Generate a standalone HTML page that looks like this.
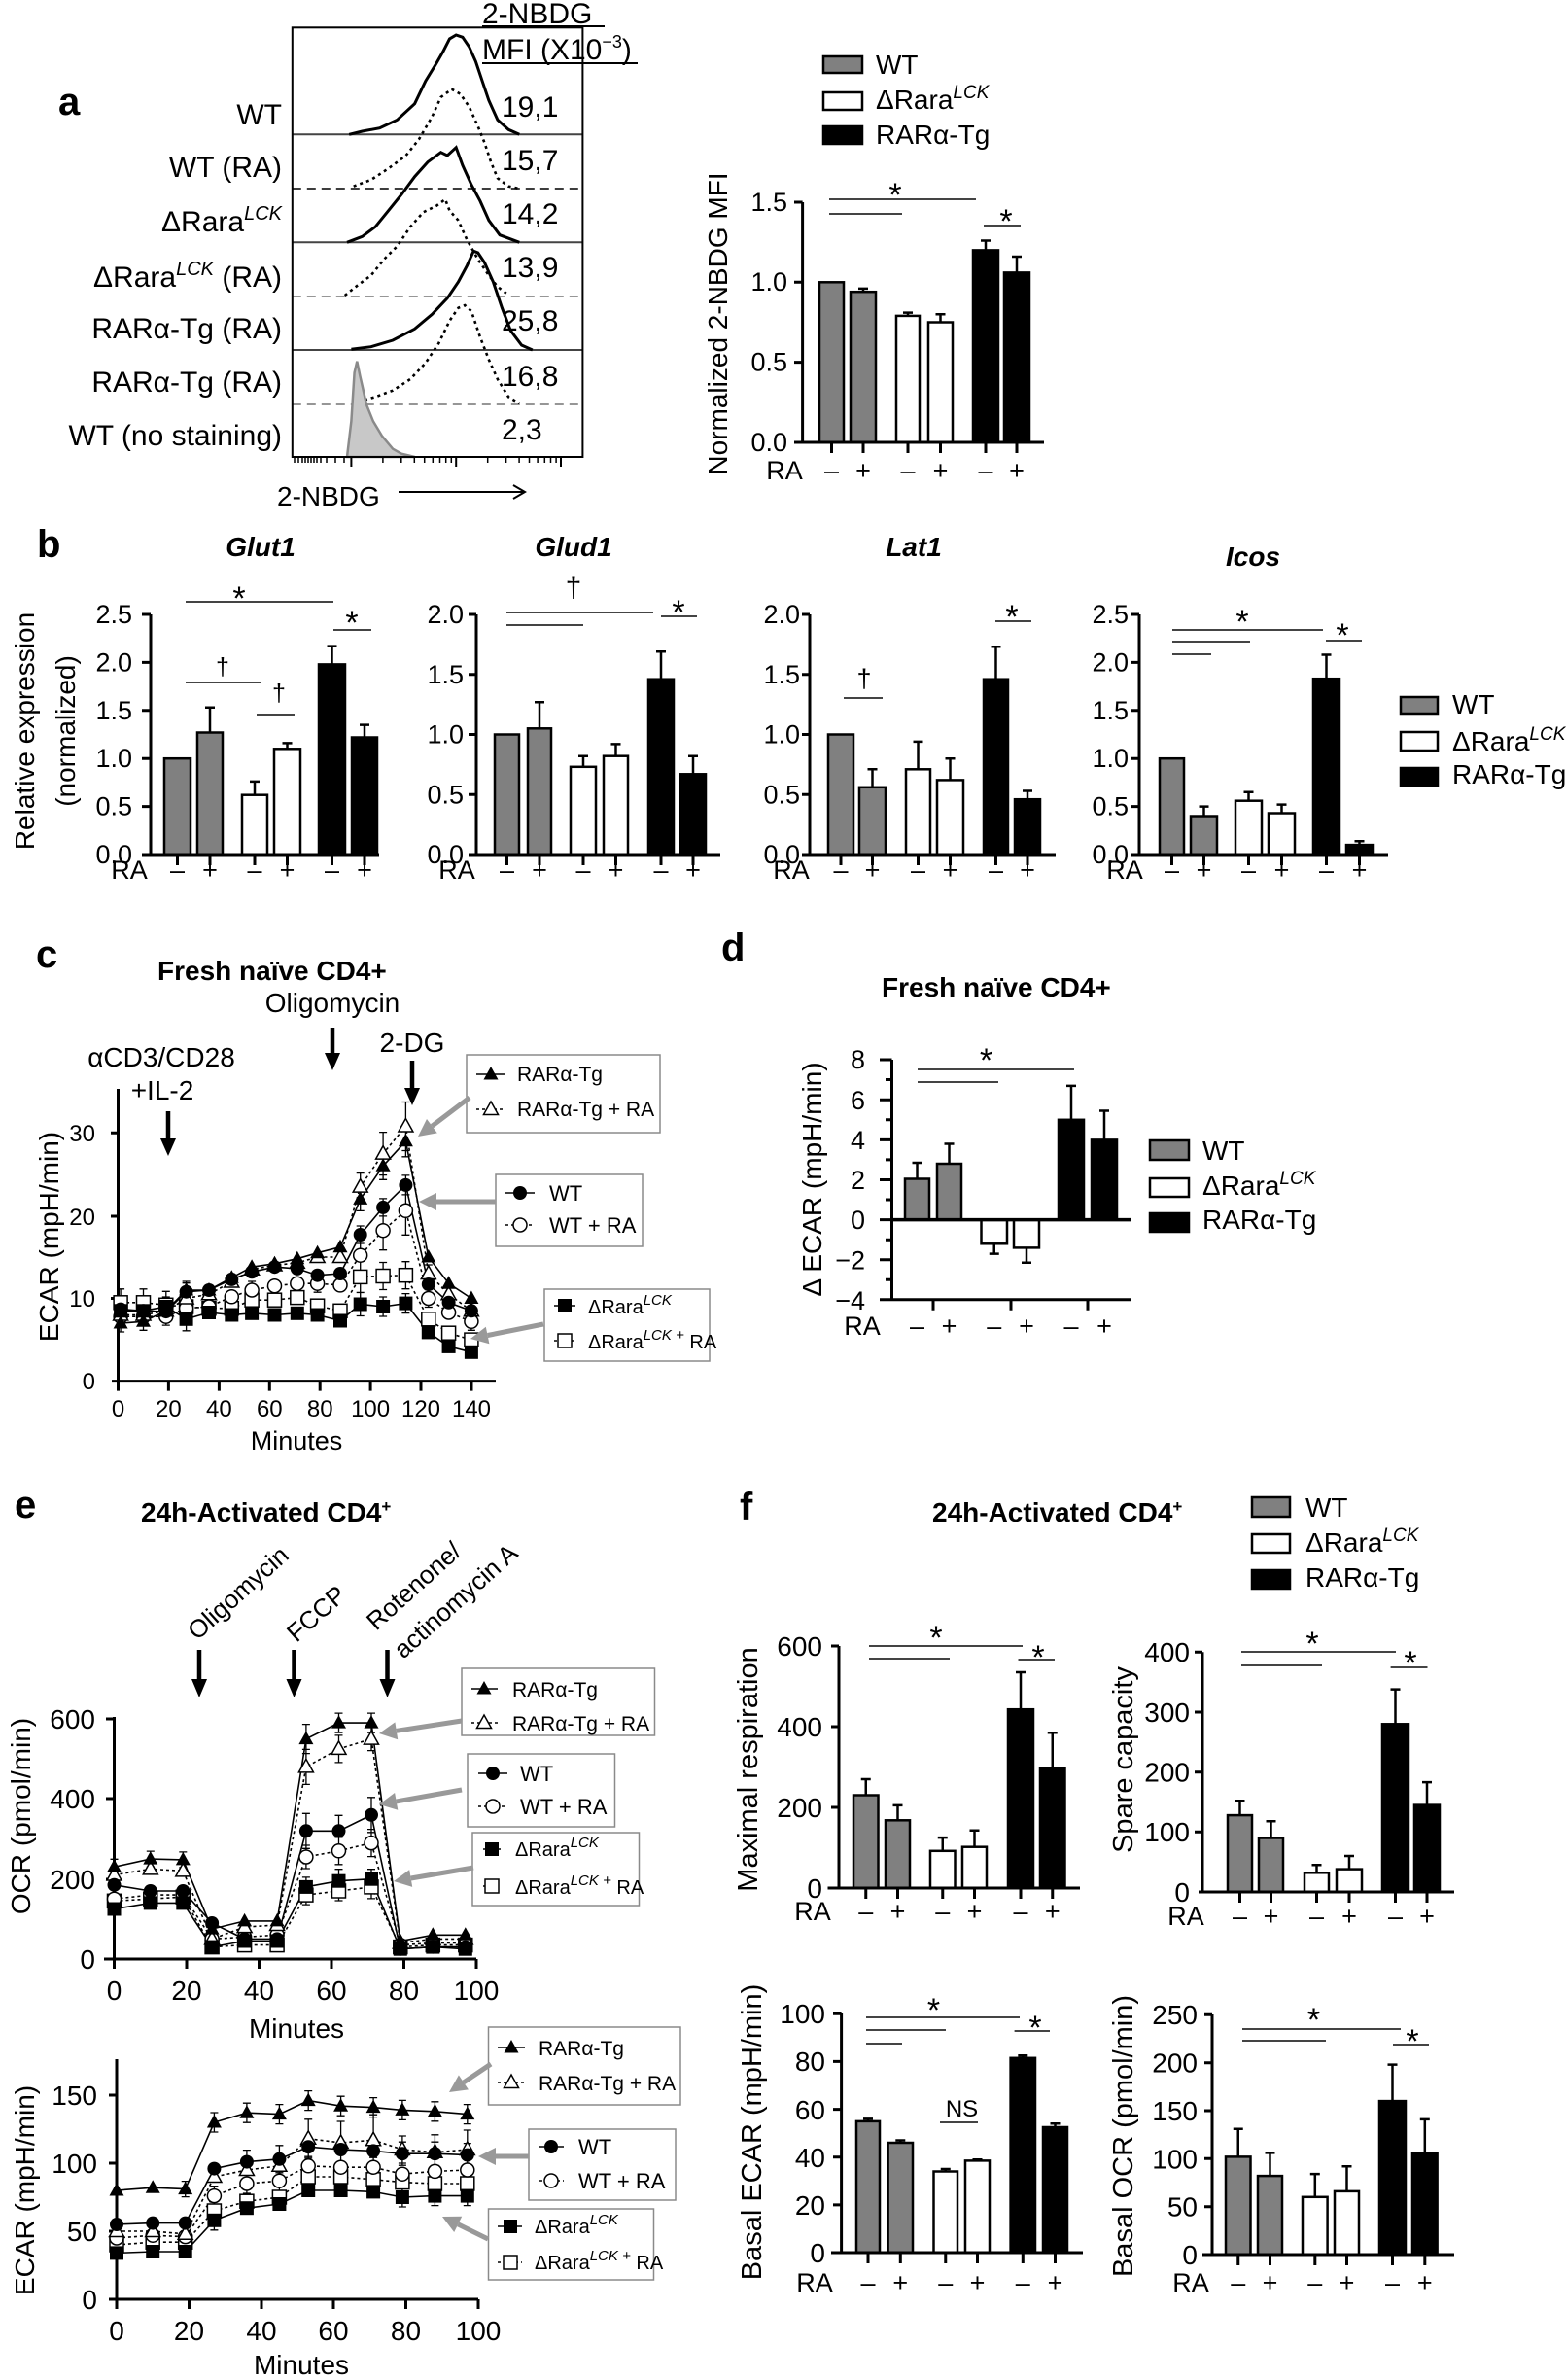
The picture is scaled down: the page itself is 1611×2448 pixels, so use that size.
<!DOCTYPE html>
<html><head><meta charset="utf-8">
<style>
html,body{margin:0;padding:0;background:#fff;}
svg{display:block;}
text{font-family:"Liberation Sans",Arial,sans-serif;fill:#000;}
.b{font-weight:bold;}
.g{fill:#808080;stroke:#000;stroke-width:2.5}
.w{fill:#fff;stroke:#000;stroke-width:2.5}
.k{fill:#000;stroke:#000;stroke-width:2.5}
.ax{stroke:#000;stroke-width:3;fill:none}
.sg{stroke:#444;stroke-width:2;fill:none}
.eb{stroke:#000;stroke-width:2.5;fill:none}
.ln{stroke:#000;stroke-width:1.6;fill:none}
.dl{stroke:#000;stroke-width:1.6;fill:none;stroke-dasharray:3 3}
.eL{stroke:#000;stroke-width:1.3;fill:none}
.lb{fill:none;stroke:#8a8a8a;stroke-width:1.5}
.ga{stroke:#999;stroke-width:5;fill:none}
</style></head>
<body>
<svg width="1611" height="2448" viewBox="0 0 1611 2448">
<defs>
<polygon id="tf" points="0,-8 7.5,5.5 -7.5,5.5" fill="#000"/>
<polygon id="to" points="0,-8 7.5,5.5 -7.5,5.5" fill="#fff" stroke="#000" stroke-width="1.5"/>
<circle id="cf" r="7" fill="#000"/>
<circle id="co" r="7" fill="#fff" stroke="#000" stroke-width="1.5"/>
<rect id="sf" x="-7" y="-7" width="14" height="14" fill="#000"/>
<rect id="so" x="-7" y="-7" width="14" height="14" fill="#fff" stroke="#000" stroke-width="1.5"/>
</defs>
<rect x="0" y="0" width="1611" height="2448" fill="#fff"/>

<!-- ================= PANEL A LEFT ================= -->
<text x="60" y="118" font-size="40" class="b">a</text>
<text x="496" y="24" font-size="30">2-NBDG</text>
<line x1="496" y1="27" x2="622" y2="27" stroke="#000" stroke-width="2"/>
<text x="496" y="61" font-size="30">MFI (X10<tspan dy="-12" font-size="18">−3</tspan><tspan dy="12">)</tspan></text>
<line x1="496" y1="65" x2="656" y2="65" stroke="#000" stroke-width="2"/>

<g font-size="30" text-anchor="end">
<text x="290" y="128">WT</text>
<text x="290" y="182">WT (RA)</text>
<text x="290" y="238">ΔRara<tspan dy="-12" font-size="20" font-style="italic">LCK</tspan></text>
<text x="290" y="295">ΔRara<tspan dy="-12" font-size="20" font-style="italic">LCK</tspan><tspan dy="12"> (RA)</tspan></text>
<text x="290" y="348">RARα-Tg (RA)</text>
<text x="290" y="403">RARα-Tg (RA)</text>
<text x="290" y="458">WT (no staining)</text>
</g>
<g font-size="30">
<text x="516" y="120">19,1</text>
<text x="516" y="175">15,7</text>
<text x="516" y="230">14,2</text>
<text x="516" y="285">13,9</text>
<text x="516" y="340">25,8</text>
<text x="516" y="397">16,8</text>
<text x="516" y="452">2,3</text>
</g>
<line x1="300.8" y1="194" x2="599.4" y2="194" stroke="#222" stroke-width="1.8" stroke-dasharray="9 6"/>
<line x1="300.8" y1="305" x2="599.4" y2="305" stroke="#888" stroke-width="1.8" stroke-dasharray="9 6"/>
<line x1="300.8" y1="416" x2="599.4" y2="416" stroke="#888" stroke-width="1.8" stroke-dasharray="9 6"/>
<line x1="300.8" y1="138.3" x2="599.4" y2="138.3" stroke="#444" stroke-width="2"/>
<line x1="300.8" y1="249.3" x2="599.4" y2="249.3" stroke="#444" stroke-width="2"/>
<line x1="300.8" y1="360" x2="599.4" y2="360" stroke="#444" stroke-width="2"/>
<polyline fill="none" stroke="#000" stroke-width="3" points="359.2,138.3 372.7,135 390.6,131.7 408.6,123.3 426.6,106.7 437.8,83.3 449,65 455.7,53.3 462.5,40 469.2,36 475.9,38.3 482.7,48.3 489.4,63.3 496.1,83.3 502.9,103.3 511.9,123.3 523.1,133.3 534.3,138.3"/>
<polyline fill="none" stroke="#000" stroke-width="2.6" stroke-dasharray="3 4" points="363.7,191.7 381.7,185 399.6,173.3 417.6,160 431,143.3 444.5,120 453.5,100 464.7,91.7 473.7,96.7 482.7,110 491.7,130 498.4,146.7 505.1,166.7 511.9,183.3 523.1,191.7 534.3,194"/>
<polyline fill="none" stroke="#000" stroke-width="3" points="357,249.3 372.7,243.3 386.1,233.3 399.6,216.7 413.1,200 426.6,181.7 440,166.7 453.5,156.7 460.2,160 469.2,151.7 475.9,170 484.9,190 493.9,206.7 502.9,226.7 514.1,241.7 534.3,249.3"/>
<polyline fill="none" stroke="#000" stroke-width="2.6" stroke-dasharray="3 4" points="354.7,304 368.2,293.3 381.7,283.3 395.1,266.7 408.6,253.3 422.1,233.3 435.5,218.3 449,211.7 458,205 462.5,216.7 471.5,226.7 480.4,246.7 491.7,266.7 502.9,283.3 511.9,295 520.8,301.7"/>
<polyline fill="none" stroke="#000" stroke-width="3" points="361.4,359.3 381.7,356.7 404.1,350 426.6,338.3 444.5,323.3 460.2,306.7 471.5,290 480.4,273.3 487.2,258.3 491.7,260 498.4,270 507.4,290 516.4,316.7 525.3,340 536.6,355 547.8,360"/>
<polyline fill="none" stroke="#000" stroke-width="2.6" stroke-dasharray="3 4" points="368.2,413.3 386.1,408.3 404.1,401.7 422.1,390 437.8,373.3 451.2,353.3 462.5,330 471.5,316.7 478.2,314 484.9,320 493.9,346.7 502.9,370 511.9,390 523.1,408.3 534.3,415"/>
<polygon fill="#c8c8c8" stroke="#8a8a8a" stroke-width="2.5" points="357,470 361.4,433.3 364.6,383.3 367.3,371.7 370.4,386.7 377.2,416.7 383.9,433.3 392.9,448.3 404.1,461.7 413.1,466.7 426.6,470"/>
<rect x="300.8" y="28.3" width="298.6" height="441.7" fill="none" stroke="#000" stroke-width="2"/>
<path stroke="#000" stroke-width="1.5" d="M303 470v6M307 470v6M311 470v6M314 470v6M317 470v6M320 470v6M323 470v6M326 470v6M330 470v6M336 470v6M345 470v6M354 470v6M393.9 470v6M412.8 470v6M426.3 470v6M436.7 470v6M445.3 470v6M452.5 470v6M458.7 470v6M464.3 470v6M501.7 470v6M520.6 470v6M534.1 470v6M544.5 470v6M553.1 470v6M560.3 470v6M566.5 470v6M572.1 470v6"/>
<path stroke="#000" stroke-width="2" d="M361.4 470v10M469.2 470v10M577 470v10"/>
<text x="285" y="520" font-size="28">2-NBDG</text>
<path d="M410 506H540M528 499L540 506L528 513" stroke="#000" stroke-width="2" fill="none"/>

<!-- ================= PANEL A RIGHT ================= -->
<rect x="847" y="58" width="40" height="17" class="g"/>
<rect x="847" y="95" width="40" height="18" class="w"/>
<rect x="847" y="130" width="40" height="18" class="k"/>
<g font-size="28">
<text x="901" y="76">WT</text>
<text x="901" y="112">ΔRara<tspan dy="-11" font-size="19" font-style="italic">LCK</tspan></text>
<text x="901" y="148">RARα-Tg</text>
</g>
<text transform="translate(748,333) rotate(-90)" text-anchor="middle" font-size="28">Normalized 2-NBDG MFI</text>
<g font-size="27" text-anchor="end">
<text x="810" y="217">1.5</text><text x="810" y="299">1.0</text><text x="810" y="381.5">0.5</text><text x="810" y="464">0.0</text>
</g>
<rect x="843" y="290.3" width="25" height="164.7" class="g"/>
<rect x="875" y="300.2" width="26" height="154.8" class="g"/>
<rect x="922" y="324.9" width="24" height="130.1" class="w"/>
<rect x="955" y="331.5" width="25" height="123.5" class="w"/>
<rect x="1001" y="257.4" width="26" height="197.6" class="k"/>
<rect x="1033" y="280.4" width="26" height="174.6" class="k"/>
<path class="eb" d="M888 300.2V296.9M883 296.9h10M934 324.9V321.6M929 321.6h10M967.5 331.5V323.2M962.5 323.2h10M1014 257.4V247.5M1009 247.5h10M1046 280.4V264M1041 264h10"/>
<path class="ax" d="M825.6 208V455M817 208h8.6M817 290.3h8.6M817 372.6h8.6M817 455H1074M855.5 455v11M888 455v11M934 455v11M967.5 455v11M1014 455v11M1046 455v11"/>
<path class="sg" d="M853 205H1004M853 220H928M1012 232H1050"/>
<g font-size="34" text-anchor="middle"><text x="921" y="212">*</text><text x="1035" y="239">*</text></g>
<g font-size="27" text-anchor="middle">
<text x="807" y="493">RA</text>
<text x="855.5" y="493">–</text><text x="888" y="493">+</text><text x="934" y="493">–</text><text x="967.5" y="493">+</text><text x="1014" y="493">–</text><text x="1046" y="493">+</text>
</g>

<!-- ================= PANEL B ================= -->
<text x="38" y="573" font-size="40" class="b">b</text>
<g font-size="28" class="b" font-style="italic" text-anchor="middle">
<text x="268" y="572">Glut1</text><text x="590" y="572">Glud1</text><text x="940" y="572">Lat1</text><text x="1289" y="582">Icos</text>
</g>
<text transform="translate(35,752) rotate(-90)" text-anchor="middle" font-size="28">Relative expression</text>
<text transform="translate(77,752) rotate(-90)" text-anchor="middle" font-size="28">(normalized)</text>
<!-- Glut1 -->
<g font-size="27" text-anchor="end">
<text x="136" y="641">2.5</text><text x="136" y="690.4">2.0</text><text x="136" y="739.8">1.5</text><text x="136" y="789.2">1.0</text><text x="136" y="838.6">0.5</text><text x="136" y="888">0.0</text>
</g>
<rect x="169" y="780.2" width="27" height="98.8" class="g"/>
<rect x="203" y="753.5" width="26" height="125.5" class="g"/>
<rect x="249" y="817.7" width="26" height="61.3" class="w"/>
<rect x="282" y="770.3" width="27" height="108.7" class="w"/>
<rect x="328" y="683.4" width="27" height="195.6" class="k"/>
<rect x="362" y="758.5" width="26" height="120.5" class="k"/>
<path class="eb" d="M216 753.5V727.8M211 727.8h10M262 817.7V803.9M257 803.9h10M295.5 770.3V764.4M290.5 764.4h10M341.5 683.4V664.6M336.5 664.6h10M375 758.5V745.6M370 745.6h10"/>
<path class="ax" d="M155 632V879M146 632h9M146 681.4h9M146 730.8h9M146 780.2h9M146 829.6h9M146 879H390M182.5 879v11M216 879v11M262 879v11M295.5 879v11M341.5 879v11M375 879v11"/>
<path class="sg" d="M191 619H343M343 648H382M191 702H268M264 735H303"/>
<g font-size="34" text-anchor="middle"><text x="246" y="627">*</text><text x="362" y="652">*</text></g>
<g font-size="25" text-anchor="middle"><text x="229" y="694">†</text><text x="287" y="721">†</text></g>
<!-- Glud1 -->
<g font-size="27" text-anchor="end">
<text x="477" y="641">2.0</text><text x="477" y="702.8">1.5</text><text x="477" y="764.5">1.0</text><text x="477" y="826.3">0.5</text><text x="477" y="888">0.0</text>
</g>
<rect x="509" y="755.5" width="25" height="123.5" class="g"/>
<rect x="543" y="749.3" width="24" height="129.7" class="g"/>
<rect x="587" y="788.8" width="26" height="90.2" class="w"/>
<rect x="621" y="777.7" width="25" height="101.3" class="w"/>
<rect x="667" y="698.7" width="26" height="180.3" class="k"/>
<rect x="700" y="796.3" width="26" height="82.7" class="k"/>
<path class="eb" d="M555 749.3V722.2M550 722.2h10M600 788.8V777.7M595 777.7h10M633.5 777.7V765.4M628.5 765.4h10M680 698.7V670.3M675 670.3h10M713 796.3V777.7M708 777.7h10"/>
<path class="ax" d="M490 632V879M482 632h8M482 693.8h8M482 755.5h8M482 817.3h8M482 879H741M521.5 879v11M555 879v11M600 879v11M633.5 879v11M680 879v11M713 879v11"/>
<path class="sg" d="M521 630H672M521 643H600M680 634H717"/>
<text x="698" y="641" font-size="34" text-anchor="middle">*</text>
<text x="590" y="614" font-size="30" text-anchor="middle">†</text>
<!-- Lat1 -->
<g font-size="27" text-anchor="end">
<text x="823" y="641">2.0</text><text x="823" y="702.8">1.5</text><text x="823" y="764.5">1.0</text><text x="823" y="826.3">0.5</text><text x="823" y="888">0.0</text>
</g>
<rect x="852" y="755.5" width="26" height="123.5" class="g"/>
<rect x="884" y="809.8" width="27" height="69.2" class="g"/>
<rect x="932" y="791.3" width="25" height="87.7" class="w"/>
<rect x="964" y="802.4" width="27" height="76.6" class="w"/>
<rect x="1012" y="698.7" width="25" height="180.3" class="k"/>
<rect x="1044" y="822.2" width="26" height="56.8" class="k"/>
<path class="eb" d="M897.5 809.8V791.3M892.5 791.3h10M944.5 791.3V762.9M939.5 762.9h10M977.5 802.4V780.2M972.5 780.2h10M1024.5 698.7V665.3M1019.5 665.3h10M1057 822.2V813.5M1052 813.5h10"/>
<path class="ax" d="M833 632V879M825 632h8M825 693.8h8M825 755.5h8M825 817.3h8M825 879H1086M865 879v11M897.5 879v11M944.5 879v11M977.5 879v11M1024.5 879v11M1057 879v11"/>
<path class="sg" d="M868 718H908M1024 639H1061"/>
<text x="1041" y="646" font-size="34" text-anchor="middle">*</text>
<text x="889" y="707" font-size="27" text-anchor="middle">†</text>
<!-- Icos -->
<g font-size="27" text-anchor="end">
<text x="1161" y="641">2.5</text><text x="1161" y="690.4">2.0</text><text x="1161" y="739.8">1.5</text><text x="1161" y="789.2">1.0</text><text x="1161" y="838.6">0.5</text><text x="1161" y="888">0.0</text>
</g>
<rect x="1193" y="780.2" width="25" height="98.8" class="g"/>
<rect x="1225" y="839.5" width="27" height="39.5" class="g"/>
<rect x="1271" y="823.7" width="27" height="55.3" class="w"/>
<rect x="1305" y="836.5" width="27" height="42.5" class="w"/>
<rect x="1351" y="698.2" width="27" height="180.8" class="k"/>
<rect x="1385" y="869.1" width="27" height="9.9" class="k"/>
<path class="eb" d="M1238.5 839.5V829.6M1233.5 829.6h10M1284.5 823.7V814.8M1279.5 814.8h10M1318.5 836.5V827.6M1313.5 827.6h10M1364.5 698.2V673.5M1359.5 673.5h10M1398.5 869.1V865.2M1393.5 865.2h10"/>
<path class="ax" d="M1172 632V879M1164 632h8M1164 681.4h8M1164 730.8h8M1164 780.2h8M1164 829.6h8M1164 879H1428M1205.5 879v11M1238.5 879v11M1284.5 879v11M1318.5 879v11M1364.5 879v11M1398.5 879v11"/>
<path class="sg" d="M1206 648H1361M1206 660H1286M1206 673H1246M1364 659H1401"/>
<g font-size="34" text-anchor="middle"><text x="1278" y="651">*</text><text x="1381" y="665">*</text></g>
<g font-size="27" text-anchor="middle">
<text x="133" y="904">RA</text>
<text x="182.5" y="904">–</text><text x="216" y="904">+</text><text x="262" y="904">–</text><text x="295.5" y="904">+</text><text x="341.5" y="904">–</text><text x="375" y="904">+</text>
<text x="470" y="904">RA</text>
<text x="521.5" y="904">–</text><text x="555" y="904">+</text><text x="600" y="904">–</text><text x="633.5" y="904">+</text><text x="680" y="904">–</text><text x="713" y="904">+</text>
<text x="814" y="904">RA</text>
<text x="865" y="904">–</text><text x="897.5" y="904">+</text><text x="944.5" y="904">–</text><text x="977.5" y="904">+</text><text x="1024.5" y="904">–</text><text x="1057" y="904">+</text>
<text x="1157" y="904">RA</text>
<text x="1205.5" y="904">–</text><text x="1238.5" y="904">+</text><text x="1284.5" y="904">–</text><text x="1318.5" y="904">+</text><text x="1364.5" y="904">–</text><text x="1398.5" y="904">+</text>
</g>
<rect x="1441" y="717" width="38" height="17" class="g"/>
<rect x="1441" y="753" width="38" height="19" class="w"/>
<rect x="1441" y="790" width="38" height="18" class="k"/>
<g font-size="28">
<text x="1494" y="734">WT</text>
<text x="1494" y="772">ΔRara<tspan dy="-11" font-size="19" font-style="italic">LCK</tspan></text>
<text x="1494" y="806">RARα-Tg</text>
</g>

<!-- ================= PANEL C ================= -->
<text x="37" y="995" font-size="40" class="b">c</text>
<text x="162" y="1008" font-size="28" class="b">Fresh naïve CD4+</text>
<g font-size="28" text-anchor="middle">
<text x="342" y="1041">Oligomycin</text>
<text x="424" y="1082">2-DG</text>
<text x="166" y="1097">αCD3/CD28</text>
<text x="167" y="1131">+IL-2</text>
</g>
<path stroke="#000" stroke-width="4.5" d="M342 1057V1086M424 1091V1122M173 1143V1174"/>
<polygon points="334,1083 350,1083 342,1101" fill="#000"/>
<polygon points="416,1119 432,1119 424,1137" fill="#000"/>
<polygon points="165,1171 181,1171 173,1189" fill="#000"/>
<text transform="translate(60,1272) rotate(-90)" text-anchor="middle" font-size="28">ECAR (mpH/min)</text>
<g font-size="24" text-anchor="end" fill="#222">
<text x="98" y="1174">30</text><text x="98" y="1260">20</text><text x="98" y="1344">10</text><text x="98" y="1429">0</text>
</g>
<g font-size="24" text-anchor="middle">
<text x="121.5" y="1457">0</text><text x="173.4" y="1457">20</text><text x="225.4" y="1457">40</text><text x="277.3" y="1457">60</text><text x="329.2" y="1457">80</text><text x="381.1" y="1457">100</text><text x="433" y="1457">120</text><text x="485" y="1457">140</text>
</g>
<text x="305" y="1491" font-size="27" text-anchor="middle">Minutes</text>
<path class="ax" d="M121.5 1120V1420.6M114 1165.3h7.5M114 1251h7.5M114 1335.5h7.5M115 1420.6H510M121.5 1420.6v10M173.4 1420.6v10M225.4 1420.6v10M277.3 1420.6v10M329.2 1420.6v10M381.1 1420.6v10M433 1420.6v10M485 1420.6v10"/>
<polyline class="ln" points="124.1,1348.3 147.5,1348.3 170.8,1344 191.6,1356.8 215,1350 238.3,1352.5 259.1,1350.8 282.5,1352.5 305.8,1350.8 326.6,1352.5 350,1358.5 370.7,1341.5 394.1,1344 417.4,1340.6 440.8,1370.4 461.6,1384.9 484.9,1390.8"/>
<polyline class="dl" points="124.1,1339.8 147.5,1339.8 170.8,1342.3 191.6,1344 215,1345.7 238.3,1345.7 259.1,1337.2 282.5,1337.2 305.8,1334.6 326.6,1343.2 350,1348.3 370.7,1313.4 394.1,1312.5 417.4,1311.7 440.8,1356.8 461.6,1371.2 484.9,1378.1"/>
<polyline class="ln" points="124.1,1346.6 147.5,1348.3 170.8,1349.1 191.6,1328.7 215,1327 238.3,1315.9 259.1,1308.3 282.5,1303.2 305.8,1304.9 326.6,1311.7 350,1310 370.7,1270 394.1,1241.9 417.4,1218.9 440.8,1321 461.6,1339.8 484.9,1348.3"/>
<polyline class="dl" points="124.1,1354.2 147.5,1354.2 170.8,1354.2 191.6,1345.7 215,1344 238.3,1333.8 259.1,1327 282.5,1322.7 305.8,1320.2 326.6,1320.2 350,1321.9 370.7,1291.2 394.1,1265.7 417.4,1245.3 440.8,1335.5 461.6,1350 484.9,1359.3"/>
<polyline class="ln" points="124.1,1361 147.5,1359.3 170.8,1348.3 191.6,1327 215,1327 238.3,1314.2 259.1,1303.2 282.5,1299.8 305.8,1294.7 326.6,1288.7 350,1282.7 370.7,1233.4 394.1,1199.3 417.4,1173.8 440.8,1293 461.6,1320.2 484.9,1335.5"/>
<polyline class="dl" points="124.1,1352.5 147.5,1352.5 170.8,1348.3 191.6,1335.5 215,1331.2 238.3,1318.5 259.1,1305.7 282.5,1301.5 305.8,1298.9 326.6,1293 350,1293 370.7,1220.6 394.1,1186.6 417.4,1158.5 440.8,1310 461.6,1331.2 484.9,1348.3"/>
<path class="eL" d="M124.1 1352v18m-4 0h8m-8-18h8M147.5 1350.3v18m-4 0h8m-8-18h8M170.8 1339.3v18m-4 0h8m-8-18h8M191.6 1318v18m-4 0h8m-8-18h8M370.7 1221.4v24m-4 0h8m-8-24h8M394.1 1185.3v28m-4 0h8m-8-28h8M417.4 1157.8v32m-4 0h8m-8-32h8
M124.1 1343.5v18m-4 0h8m-8-18h8M147.5 1343.5v18m-4 0h8m-8-18h8M191.6 1326.5v18m-4 0h8m-8-18h8M370.7 1206.6v28m-4 0h8m-8-28h8M394.1 1164.6v44m-4 0h8m-8-44h8M417.4 1133.5v50m-4 0h8m-8-50h8M440.8 1301v18m-4 0h8m-8-18h8
M124.1 1334.6v24m-4 0h8m-8-24h8M147.5 1334.3v28m-4 0h8m-8-28h8M170.8 1335.1v28m-4 0h8m-8-28h8M191.6 1319.7v18m-4 0h8m-8-18h8M370.7 1261v18m-4 0h8m-8-18h8M394.1 1232.9v18m-4 0h8m-8-18h8M417.4 1208.9v20m-4 0h8m-8-20h8
M124.1 1345.2v18m-4 0h8m-8-18h8M191.6 1336.7v18m-4 0h8m-8-18h8M259.1 1318v18m-4 0h8m-8-18h8M326.6 1311.2v18m-4 0h8m-8-18h8M370.7 1274.2v34m-4 0h8m-8-34h8M394.1 1245.7v40m-4 0h8m-8-40h8M417.4 1220.3v50m-4 0h8m-8-50h8M440.8 1326.5v18m-4 0h8m-8-18h8M484.9 1350.3v18m-4 0h8m-8-18h8
M170.8 1334v20m-4 0h8m-8-20h8M191.6 1344.8v24m-4 0h8m-8-24h8M370.7 1329.5v24m-4 0h8m-8-24h8M394.1 1334v20m-4 0h8m-8-20h8M417.4 1330.6v20m-4 0h8m-8-20h8
M124.1 1325.8v28m-4 0h8m-8-28h8M147.5 1325.8v28m-4 0h8m-8-28h8M170.8 1328.3v28m-4 0h8m-8-28h8M191.6 1334v20m-4 0h8m-8-20h8M370.7 1297.4v32m-4 0h8m-8-32h8M394.1 1298.5v28m-4 0h8m-8-28h8M417.4 1297.7v28m-4 0h8m-8-28h8"/>
<g>
<use href="#so" x="124.1" y="1339.8"/><use href="#so" x="147.5" y="1339.8"/><use href="#so" x="170.8" y="1342.3"/><use href="#so" x="191.6" y="1344"/><use href="#so" x="215" y="1345.7"/><use href="#so" x="238.3" y="1345.7"/><use href="#so" x="259.1" y="1337.2"/><use href="#so" x="282.5" y="1337.2"/><use href="#so" x="305.8" y="1334.6"/><use href="#so" x="326.6" y="1343.2"/><use href="#so" x="350" y="1348.3"/><use href="#so" x="370.7" y="1313.4"/><use href="#so" x="394.1" y="1312.5"/><use href="#so" x="417.4" y="1311.7"/><use href="#so" x="440.8" y="1356.8"/><use href="#so" x="461.6" y="1371.2"/><use href="#so" x="484.9" y="1378.1"/>
<use href="#co" x="124.1" y="1354.2"/><use href="#co" x="147.5" y="1354.2"/><use href="#co" x="170.8" y="1354.2"/><use href="#co" x="191.6" y="1345.7"/><use href="#co" x="215" y="1344"/><use href="#co" x="238.3" y="1333.8"/><use href="#co" x="259.1" y="1327"/><use href="#co" x="282.5" y="1322.7"/><use href="#co" x="305.8" y="1320.2"/><use href="#co" x="326.6" y="1320.2"/><use href="#co" x="350" y="1321.9"/><use href="#co" x="370.7" y="1291.2"/><use href="#co" x="394.1" y="1265.7"/><use href="#co" x="417.4" y="1245.3"/><use href="#co" x="440.8" y="1335.5"/><use href="#co" x="461.6" y="1350"/><use href="#co" x="484.9" y="1359.3"/>
<use href="#to" x="124.1" y="1352.5"/><use href="#to" x="147.5" y="1352.5"/><use href="#to" x="170.8" y="1348.3"/><use href="#to" x="191.6" y="1335.5"/><use href="#to" x="215" y="1331.2"/><use href="#to" x="238.3" y="1318.5"/><use href="#to" x="259.1" y="1305.7"/><use href="#to" x="282.5" y="1301.5"/><use href="#to" x="305.8" y="1298.9"/><use href="#to" x="326.6" y="1293"/><use href="#to" x="350" y="1293"/><use href="#to" x="370.7" y="1220.6"/><use href="#to" x="394.1" y="1186.6"/><use href="#to" x="417.4" y="1158.5"/><use href="#to" x="440.8" y="1310"/><use href="#to" x="461.6" y="1331.2"/><use href="#to" x="484.9" y="1348.3"/>
<use href="#sf" x="124.1" y="1348.3"/><use href="#sf" x="147.5" y="1348.3"/><use href="#sf" x="170.8" y="1344"/><use href="#sf" x="191.6" y="1356.8"/><use href="#sf" x="215" y="1350"/><use href="#sf" x="238.3" y="1352.5"/><use href="#sf" x="259.1" y="1350.8"/><use href="#sf" x="282.5" y="1352.5"/><use href="#sf" x="305.8" y="1350.8"/><use href="#sf" x="326.6" y="1352.5"/><use href="#sf" x="350" y="1358.5"/><use href="#sf" x="370.7" y="1341.5"/><use href="#sf" x="394.1" y="1344"/><use href="#sf" x="417.4" y="1340.6"/><use href="#sf" x="440.8" y="1370.4"/><use href="#sf" x="461.6" y="1384.9"/><use href="#sf" x="484.9" y="1390.8"/>
<use href="#cf" x="124.1" y="1346.6"/><use href="#cf" x="147.5" y="1348.3"/><use href="#cf" x="170.8" y="1349.1"/><use href="#cf" x="191.6" y="1328.7"/><use href="#cf" x="215" y="1327"/><use href="#cf" x="238.3" y="1315.9"/><use href="#cf" x="259.1" y="1308.3"/><use href="#cf" x="282.5" y="1303.2"/><use href="#cf" x="305.8" y="1304.9"/><use href="#cf" x="326.6" y="1311.7"/><use href="#cf" x="350" y="1310"/><use href="#cf" x="370.7" y="1270"/><use href="#cf" x="394.1" y="1241.9"/><use href="#cf" x="417.4" y="1218.9"/><use href="#cf" x="440.8" y="1321"/><use href="#cf" x="461.6" y="1339.8"/><use href="#cf" x="484.9" y="1348.3"/>
<use href="#tf" x="124.1" y="1361"/><use href="#tf" x="147.5" y="1359.3"/><use href="#tf" x="170.8" y="1348.3"/><use href="#tf" x="191.6" y="1327"/><use href="#tf" x="215" y="1327"/><use href="#tf" x="238.3" y="1314.2"/><use href="#tf" x="259.1" y="1303.2"/><use href="#tf" x="282.5" y="1299.8"/><use href="#tf" x="305.8" y="1294.7"/><use href="#tf" x="326.6" y="1288.7"/><use href="#tf" x="350" y="1282.7"/><use href="#tf" x="370.7" y="1233.4"/><use href="#tf" x="394.1" y="1199.3"/><use href="#tf" x="417.4" y="1173.8"/><use href="#tf" x="440.8" y="1293"/><use href="#tf" x="461.6" y="1320.2"/><use href="#tf" x="484.9" y="1335.5"/>
</g>
<rect x="480" y="1085" width="199" height="80" class="lb"/>
<line x1="490" y1="1105" x2="520" y2="1105" class="ln"/><use href="#tf" x="505" y="1105"/>
<line x1="490" y1="1141" x2="520" y2="1141" class="dl"/><use href="#to" x="505" y="1141"/>
<text x="532" y="1112" font-size="21">RARα-Tg</text>
<text x="532" y="1148" font-size="21">RARα-Tg + RA</text>
<rect x="510" y="1208" width="151" height="74" class="lb"/>
<line x1="520" y1="1227" x2="550" y2="1227" class="ln"/><use href="#cf" x="535" y="1227"/>
<line x1="520" y1="1260" x2="550" y2="1260" class="dl"/><use href="#co" x="535" y="1260"/>
<text x="565" y="1235" font-size="22">WT</text>
<text x="565" y="1268" font-size="22">WT + RA</text>
<rect x="560" y="1326" width="170" height="74" class="lb"/>
<line x1="570" y1="1343" x2="592" y2="1343" class="ln"/><use href="#sf" x="581" y="1343"/>
<line x1="570" y1="1379" x2="592" y2="1379" class="dl"/><use href="#so" x="581" y="1379"/>
<text x="605" y="1351" font-size="20">ΔRara<tspan dy="-9" font-size="15" font-style="italic">LCK</tspan></text>
<text x="605" y="1387" font-size="20">ΔRara<tspan dy="-9" font-size="15" font-style="italic">LCK +</tspan><tspan dy="9"> RA</tspan></text>
<path class="ga" d="M483 1129L444.4 1158.2M510 1236H449M559 1362L501.6 1373.5"/>
<polygon fill="#999" points="430,1169 439,1151 449.8,1165.4"/>
<polygon fill="#999" points="431,1236 449,1227 449,1245"/>
<polygon fill="#999" points="484,1377 499.8,1364.7 503.4,1382.3"/>

<!-- ================= PANEL D ================= -->
<text x="742" y="988" font-size="40" class="b">d</text>
<text x="907" y="1025" font-size="28" class="b">Fresh naïve CD4+</text>
<text transform="translate(845,1213) rotate(-90)" text-anchor="middle" font-size="28">Δ ECAR (mpH/min)</text>
<g font-size="27" text-anchor="end">
<text x="890" y="1099">8</text><text x="890" y="1141">6</text><text x="890" y="1182">4</text><text x="890" y="1223">2</text><text x="890" y="1264">0</text><text x="890" y="1305.7">−2</text><text x="890" y="1346.8">−4</text>
</g>
<rect x="931" y="1212.5" width="25" height="42.1" class="g"/>
<rect x="964" y="1197" width="25" height="57.6" class="g"/>
<rect x="1009.5" y="1254.6" width="26.5" height="24.7" class="w"/>
<rect x="1043" y="1254.6" width="26" height="28.8" class="w"/>
<rect x="1089" y="1151.8" width="26" height="102.8" class="k"/>
<rect x="1123" y="1172.4" width="26" height="82.2" class="k"/>
<path class="eb" d="M943.5 1212.5V1196M938.5 1196h10M976.5 1197V1176.5M971.5 1176.5h10M1022.75 1279.3V1289.6M1017.75 1289.6h10M1056 1283.4V1298.8M1051 1298.8h10M1102 1151.8V1116.9M1097 1116.9h10M1136 1172.4V1142.5M1131 1142.5h10"/>
<path class="ax" d="M917.5 1090V1337M905 1090h12.5M911 1110.5h6.5M905 1131.2h12.5M911 1151.8h6.5M905 1172.4h12.5M911 1192.9h6.5M905 1213.5h12.5M911 1234h6.5M905 1254.6h12.5M911 1275.2h6.5M905 1295.7h12.5M911 1316.3h6.5M905 1336.8h12.5M917.5 1336.8H1164M960 1336.8v11M1040 1336.8v11M1119 1336.8v11"/>
<line x1="917.5" y1="1254.6" x2="1164" y2="1254.6" stroke="#000" stroke-width="3.5"/>
<path class="sg" d="M944 1100H1105M944 1113H1027"/>
<text x="1014.5" y="1102" font-size="34" text-anchor="middle">*</text>
<g font-size="27" text-anchor="middle">
<text x="887" y="1373">RA</text>
<text x="943.5" y="1373">–</text><text x="976.5" y="1373">+</text><text x="1022.75" y="1373">–</text><text x="1056" y="1373">+</text><text x="1102" y="1373">–</text><text x="1136" y="1373">+</text>
</g>
<rect x="1183" y="1173" width="40" height="20" class="g"/>
<rect x="1183" y="1212" width="40" height="19" class="w"/>
<rect x="1183" y="1248" width="40" height="19" class="k"/>
<g font-size="28">
<text x="1237" y="1193">WT</text>
<text x="1237" y="1229">ΔRara<tspan dy="-11" font-size="19" font-style="italic">LCK</tspan></text>
<text x="1237" y="1264">RARα-Tg</text>
</g>

<!-- ================= PANEL E TOP ================= -->
<text x="15" y="1561" font-size="40" class="b">e</text>
<text x="145" y="1565" font-size="28" class="b">24h-Activated CD4<tspan dy="-10" font-size="17">+</tspan></text>
<g font-size="26">
<text transform="translate(203,1688) rotate(-42)">Oligomycin</text>
<text transform="translate(305,1690) rotate(-42)">FCCP</text>
<text transform="translate(387,1678) rotate(-42)">Rotenone/</text>
<text transform="translate(415,1707) rotate(-42)">actinomycin A</text>
</g>
<path stroke="#000" stroke-width="4.5" d="M205 1697V1730M302.5 1697V1730M398.5 1697V1730"/>
<polygon points="197,1727 213,1727 205,1746" fill="#000"/>
<polygon points="294.5,1727 310.5,1727 302.5,1746" fill="#000"/>
<polygon points="390.5,1727 406.5,1727 398.5,1746" fill="#000"/>
<text transform="translate(31,1868) rotate(-90)" text-anchor="middle" font-size="28">OCR (pmol/min)</text>
<g font-size="28" text-anchor="end">
<text x="98" y="1778">600</text><text x="98" y="1860">400</text><text x="98" y="1943">200</text><text x="98" y="2025">0</text>
</g>
<g font-size="28" text-anchor="middle">
<text x="117.5" y="2057">0</text><text x="192" y="2057">20</text><text x="266.5" y="2057">40</text><text x="341" y="2057">60</text><text x="415.5" y="2057">80</text><text x="490" y="2057">100</text>
</g>
<text x="305" y="2096" font-size="28" text-anchor="middle">Minutes</text>
<path class="ax" d="M117.5 1766V2015M109 1768h8.5M109 1850h8.5M109 1933h8.5M107 2015H490M117.5 2015v10M192 2015v10M266.5 2015v10M341 2015v10M415.5 2015v10M490 2015v10"/>
<polyline class="ln" points="117.5,1963.5 154.8,1957.4 188.3,1957.4 218.1,2002.6 251.6,1996.5 285.1,1996.5 314.9,1940.9 348.5,1934.7 382,1932.7 411.8,2004.7 445.3,2002.6 478.8,2004.7"/>
<polyline class="dl" points="117.5,1955.3 154.8,1953.2 188.3,1951.2 218.1,2002.6 251.6,2000.6 285.1,2000.6 314.9,1949.1 348.5,1945 382,1940.9 411.8,2002.6 445.3,2000.6 478.8,2000.6"/>
<polyline class="ln" points="117.5,1938.8 154.8,1945 188.3,1945 218.1,1978 251.6,1994.4 285.1,1994.4 314.9,1883.3 348.5,1883.3 382,1866.8 411.8,2004.7 445.3,2002.6 478.8,2002.6"/>
<polyline class="dl" points="117.5,1953.2 154.8,1949.1 188.3,1949.1 218.1,1994.4 251.6,1992.4 285.1,1990.3 314.9,1910 348.5,1903.8 382,1895.6 411.8,2000.6 445.3,1998.5 478.8,1998.5"/>
<polyline class="ln" points="117.5,1920.3 154.8,1912.1 188.3,1912.9 218.1,1984.1 251.6,1975.9 285.1,1975.9 314.9,1788.6 348.5,1772.1 382,1772.1 411.8,1996.5 445.3,1990.3 478.8,1990.3"/>
<polyline class="dl" points="117.5,1928.5 154.8,1922.4 188.3,1924.4 218.1,1994.4 251.6,1982.1 285.1,1980 314.9,1817.4 348.5,1798.9 382,1788.6 411.8,1998.5 445.3,1994.4 478.8,1994.4"/>
<path class="eL" d="M314.9 1773.6v30m-4 0h8m-8-30h8M348.5 1762.1v20m-4 0h8m-8-20h8M382 1762.1v20m-4 0h8m-8-20h8M117.5 1912.3v16m-4 0h8m-8-16h8M154.8 1904.1v16m-4 0h8m-8-16h8M188.3 1904.9v16m-4 0h8m-8-16h8
M314.9 1799.4v36m-4 0h8m-8-36h8M348.5 1784.9v28m-4 0h8m-8-28h8M382 1776.6v24m-4 0h8m-8-24h8
M314.9 1865.3v36m-4 0h8m-8-36h8M348.5 1867.3v32m-4 0h8m-8-32h8M382 1848.8v36m-4 0h8m-8-36h8M117.5 1928.8v20m-4 0h8m-8-20h8
M314.9 1898v24m-4 0h8m-8-24h8M348.5 1889.8v28m-4 0h8m-8-28h8M382 1881.6v28m-4 0h8m-8-28h8
M314.9 1930.9v20m-4 0h8m-8-20h8M348.5 1922.7v24m-4 0h8m-8-24h8M382 1922.7v20m-4 0h8m-8-20h8
M314.9 1939.1v20m-4 0h8m-8-20h8M348.5 1935v20m-4 0h8m-8-20h8M382 1928.9v24m-4 0h8m-8-24h8"/>
<g>
<use href="#so" x="117.5" y="1955.3"/><use href="#so" x="154.8" y="1953.2"/><use href="#so" x="188.3" y="1951.2"/><use href="#so" x="218.1" y="2002.6"/><use href="#so" x="251.6" y="2000.6"/><use href="#so" x="285.1" y="2000.6"/><use href="#so" x="314.9" y="1949.1"/><use href="#so" x="348.5" y="1945"/><use href="#so" x="382" y="1940.9"/><use href="#so" x="411.8" y="2002.6"/><use href="#so" x="445.3" y="2000.6"/><use href="#so" x="478.8" y="2000.6"/>
<use href="#co" x="117.5" y="1953.2"/><use href="#co" x="154.8" y="1949.1"/><use href="#co" x="188.3" y="1949.1"/><use href="#co" x="218.1" y="1994.4"/><use href="#co" x="251.6" y="1992.4"/><use href="#co" x="285.1" y="1990.3"/><use href="#co" x="314.9" y="1910"/><use href="#co" x="348.5" y="1903.8"/><use href="#co" x="382" y="1895.6"/><use href="#co" x="411.8" y="2000.6"/><use href="#co" x="445.3" y="1998.5"/><use href="#co" x="478.8" y="1998.5"/>
<use href="#to" x="117.5" y="1928.5"/><use href="#to" x="154.8" y="1922.4"/><use href="#to" x="188.3" y="1924.4"/><use href="#to" x="218.1" y="1994.4"/><use href="#to" x="251.6" y="1982.1"/><use href="#to" x="285.1" y="1980"/><use href="#to" x="314.9" y="1817.4"/><use href="#to" x="348.5" y="1798.9"/><use href="#to" x="382" y="1788.6"/><use href="#to" x="411.8" y="1998.5"/><use href="#to" x="445.3" y="1994.4"/><use href="#to" x="478.8" y="1994.4"/>
<use href="#sf" x="117.5" y="1963.5"/><use href="#sf" x="154.8" y="1957.4"/><use href="#sf" x="188.3" y="1957.4"/><use href="#sf" x="218.1" y="2002.6"/><use href="#sf" x="251.6" y="1996.5"/><use href="#sf" x="285.1" y="1996.5"/><use href="#sf" x="314.9" y="1940.9"/><use href="#sf" x="348.5" y="1934.7"/><use href="#sf" x="382" y="1932.7"/><use href="#sf" x="411.8" y="2004.7"/><use href="#sf" x="445.3" y="2002.6"/><use href="#sf" x="478.8" y="2004.7"/>
<use href="#cf" x="117.5" y="1938.8"/><use href="#cf" x="154.8" y="1945"/><use href="#cf" x="188.3" y="1945"/><use href="#cf" x="218.1" y="1978"/><use href="#cf" x="251.6" y="1994.4"/><use href="#cf" x="285.1" y="1994.4"/><use href="#cf" x="314.9" y="1883.3"/><use href="#cf" x="348.5" y="1883.3"/><use href="#cf" x="382" y="1866.8"/><use href="#cf" x="411.8" y="2004.7"/><use href="#cf" x="445.3" y="2002.6"/><use href="#cf" x="478.8" y="2002.6"/>
<use href="#tf" x="117.5" y="1920.3"/><use href="#tf" x="154.8" y="1912.1"/><use href="#tf" x="188.3" y="1912.9"/><use href="#tf" x="218.1" y="1984.1"/><use href="#tf" x="251.6" y="1975.9"/><use href="#tf" x="285.1" y="1975.9"/><use href="#tf" x="314.9" y="1788.6"/><use href="#tf" x="348.5" y="1772.1"/><use href="#tf" x="382" y="1772.1"/><use href="#tf" x="411.8" y="1996.5"/><use href="#tf" x="445.3" y="1990.3"/><use href="#tf" x="478.8" y="1990.3"/>
</g>
<rect x="475" y="1716" width="198.5" height="69" class="lb"/>
<line x1="485" y1="1737" x2="512" y2="1737" class="ln"/><use href="#tf" x="498" y="1737"/>
<line x1="485" y1="1772" x2="512" y2="1772" class="dl"/><use href="#to" x="498" y="1772"/>
<text x="527" y="1745" font-size="21">RARα-Tg</text>
<text x="527" y="1780" font-size="21">RARα-Tg + RA</text>
<rect x="481" y="1804" width="151.5" height="75" class="lb"/>
<line x1="492" y1="1824" x2="522" y2="1824" class="ln"/><use href="#cf" x="507" y="1824"/>
<line x1="492" y1="1858" x2="522" y2="1858" class="dl"/><use href="#co" x="507" y="1858"/>
<text x="535" y="1832" font-size="22">WT</text>
<text x="535" y="1866" font-size="22">WT + RA</text>
<rect x="486" y="1885" width="171.5" height="75" class="lb"/>
<line x1="497" y1="1902" x2="515" y2="1902" class="ln"/><use href="#sf" x="506" y="1902"/>
<line x1="497" y1="1940" x2="515" y2="1940" class="dl"/><use href="#so" x="506" y="1940"/>
<text x="530" y="1909" font-size="20">ΔRara<tspan dy="-9" font-size="15" font-style="italic">LCK</tspan></text>
<text x="530" y="1948" font-size="20">ΔRara<tspan dy="-9" font-size="15" font-style="italic">LCK +</tspan><tspan dy="9"> RA</tspan></text>
<path class="ga" d="M475 1770L407.8 1780.3M475 1841L407.7 1852.9M487 1921L422.7 1932"/>
<polygon fill="#999" points="390,1783 406.4,1771.4 409.2,1789.2"/>
<polygon fill="#999" points="390,1856 406.1,1844 409.3,1861.8"/>
<polygon fill="#999" points="405,1935 421.2,1923.1 424.2,1940.9"/>

<!-- ================= PANEL E BOTTOM ================= -->
<text transform="translate(35,2253) rotate(-90)" text-anchor="middle" font-size="28">ECAR (mpH/min)</text>
<g font-size="28" text-anchor="end">
<text x="100" y="2165">150</text><text x="100" y="2235">100</text><text x="100" y="2305">50</text><text x="100" y="2375">0</text>
</g>
<g font-size="28" text-anchor="middle">
<text x="120" y="2407">0</text><text x="194.5" y="2407">20</text><text x="269" y="2407">40</text><text x="343" y="2407">60</text><text x="417.5" y="2407">80</text><text x="492" y="2407">100</text>
</g>
<text x="310" y="2442" font-size="28" text-anchor="middle">Minutes</text>
<path class="ax" d="M120 2118V2365M112 2155h8M112 2225h8M112 2295h8M112 2365H492M120 2365v10M194.5 2365v10M269 2365v10M343 2365v10M417.5 2365v10M492 2365v10"/>
<polyline class="ln" points="120,2317.4 157.2,2316 190.7,2316 220.4,2283.8 253.9,2271.2 287.4,2267 317.2,2253 350.6,2253 384.1,2254.4 413.9,2260 447.4,2258.6 480.8,2258.6"/>
<polyline class="dl" points="120,2309 157.2,2306.2 190.7,2306.2 220.4,2274 253.9,2264.2 287.4,2260 317.2,2239 350.6,2239 384.1,2241.8 413.9,2244.6 447.4,2246 480.8,2246"/>
<polyline class="ln" points="120,2288 157.2,2286.6 190.7,2286.6 220.4,2230.6 253.9,2223.6 287.4,2220.8 317.2,2208.2 350.6,2211 384.1,2212.4 413.9,2215.2 447.4,2215.2 480.8,2216.6"/>
<polyline class="dl" points="120,2302 157.2,2299.2 190.7,2300.6 220.4,2258.6 253.9,2246 287.4,2243.2 317.2,2227.8 350.6,2229.2 384.1,2229.2 413.9,2236.2 447.4,2233.4 480.8,2232"/>
<polyline class="ln" points="120,2253 157.2,2250.2 190.7,2251.6 220.4,2183 253.9,2173.2 287.4,2174.6 317.2,2160.6 350.6,2166.2 384.1,2167.6 413.9,2170.4 447.4,2171.8 480.8,2174.6"/>
<polyline class="dl" points="120,2295 157.2,2295 190.7,2297.8 220.4,2239 253.9,2232 287.4,2227.8 317.2,2199.8 350.6,2204 384.1,2201.2 413.9,2211 447.4,2213.8 480.8,2211"/>
<path class="eL" d="M190.7 2243.6v16m-4 0h8m-8-16h8M220.4 2173v20m-4 0h8m-8-20h8M253.9 2163.2v20m-4 0h8m-8-20h8M287.4 2164.6v20m-4 0h8m-8-20h8M317.2 2150.6v20m-4 0h8m-8-20h8M350.6 2156.2v20m-4 0h8m-8-20h8M384.1 2157.6v20m-4 0h8m-8-20h8M413.9 2160.4v20m-4 0h8m-8-20h8M447.4 2161.8v20m-4 0h8m-8-20h8M480.8 2164.6v20m-4 0h8m-8-20h8
M317.2 2179.8v40m-4 0h8m-8-40h8M350.6 2182v44m-4 0h8m-8-44h8M384.1 2175.2v52m-4 0h8m-8-52h8M413.9 2197v28m-4 0h8m-8-28h8M447.4 2195.8v36m-4 0h8m-8-36h8M480.8 2191v40m-4 0h8m-8-40h8
M253.9 2211.6v24m-4 0h8m-8-24h8M287.4 2206.8v28m-4 0h8m-8-28h8M317.2 2198.2v20m-4 0h8m-8-20h8M413.9 2203.2v24m-4 0h8m-8-24h8M447.4 2203.2v24m-4 0h8m-8-24h8M480.8 2204.6v24m-4 0h8m-8-24h8
M220.4 2248.6v20m-4 0h8m-8-20h8M253.9 2236v20m-4 0h8m-8-20h8M287.4 2233.2v20m-4 0h8m-8-20h8M384.1 2219.2v20m-4 0h8m-8-20h8
M220.4 2273.8v20m-4 0h8m-8-20h8M413.9 2250v20m-4 0h8m-8-20h8M447.4 2248.6v20m-4 0h8m-8-20h8M480.8 2248.6v20m-4 0h8m-8-20h8"/>
<g>
<use href="#so" x="120" y="2309"/><use href="#so" x="157.2" y="2306.2"/><use href="#so" x="190.7" y="2306.2"/><use href="#so" x="220.4" y="2274"/><use href="#so" x="253.9" y="2264.2"/><use href="#so" x="287.4" y="2260"/><use href="#so" x="317.2" y="2239"/><use href="#so" x="350.6" y="2239"/><use href="#so" x="384.1" y="2241.8"/><use href="#so" x="413.9" y="2244.6"/><use href="#so" x="447.4" y="2246"/><use href="#so" x="480.8" y="2246"/>
<use href="#co" x="120" y="2302"/><use href="#co" x="157.2" y="2299.2"/><use href="#co" x="190.7" y="2300.6"/><use href="#co" x="220.4" y="2258.6"/><use href="#co" x="253.9" y="2246"/><use href="#co" x="287.4" y="2243.2"/><use href="#co" x="317.2" y="2227.8"/><use href="#co" x="350.6" y="2229.2"/><use href="#co" x="384.1" y="2229.2"/><use href="#co" x="413.9" y="2236.2"/><use href="#co" x="447.4" y="2233.4"/><use href="#co" x="480.8" y="2232"/>
<use href="#to" x="120" y="2295"/><use href="#to" x="157.2" y="2295"/><use href="#to" x="190.7" y="2297.8"/><use href="#to" x="220.4" y="2239"/><use href="#to" x="253.9" y="2232"/><use href="#to" x="287.4" y="2227.8"/><use href="#to" x="317.2" y="2199.8"/><use href="#to" x="350.6" y="2204"/><use href="#to" x="384.1" y="2201.2"/><use href="#to" x="413.9" y="2211"/><use href="#to" x="447.4" y="2213.8"/><use href="#to" x="480.8" y="2211"/>
<use href="#sf" x="120" y="2317.4"/><use href="#sf" x="157.2" y="2316"/><use href="#sf" x="190.7" y="2316"/><use href="#sf" x="220.4" y="2283.8"/><use href="#sf" x="253.9" y="2271.2"/><use href="#sf" x="287.4" y="2267"/><use href="#sf" x="317.2" y="2253"/><use href="#sf" x="350.6" y="2253"/><use href="#sf" x="384.1" y="2254.4"/><use href="#sf" x="413.9" y="2260"/><use href="#sf" x="447.4" y="2258.6"/><use href="#sf" x="480.8" y="2258.6"/>
<use href="#cf" x="120" y="2288"/><use href="#cf" x="157.2" y="2286.6"/><use href="#cf" x="190.7" y="2286.6"/><use href="#cf" x="220.4" y="2230.6"/><use href="#cf" x="253.9" y="2223.6"/><use href="#cf" x="287.4" y="2220.8"/><use href="#cf" x="317.2" y="2208.2"/><use href="#cf" x="350.6" y="2211"/><use href="#cf" x="384.1" y="2212.4"/><use href="#cf" x="413.9" y="2215.2"/><use href="#cf" x="447.4" y="2215.2"/><use href="#cf" x="480.8" y="2216.6"/>
<use href="#tf" x="120" y="2253"/><use href="#tf" x="157.2" y="2250.2"/><use href="#tf" x="190.7" y="2251.6"/><use href="#tf" x="220.4" y="2183"/><use href="#tf" x="253.9" y="2173.2"/><use href="#tf" x="287.4" y="2174.6"/><use href="#tf" x="317.2" y="2160.6"/><use href="#tf" x="350.6" y="2166.2"/><use href="#tf" x="384.1" y="2167.6"/><use href="#tf" x="413.9" y="2170.4"/><use href="#tf" x="447.4" y="2171.8"/><use href="#tf" x="480.8" y="2174.6"/>
</g>
<rect x="502.5" y="2085" width="197.5" height="80" class="lb"/>
<line x1="512" y1="2106" x2="540" y2="2106" class="ln"/><use href="#tf" x="526" y="2106"/>
<line x1="512" y1="2142" x2="540" y2="2142" class="dl"/><use href="#to" x="526" y="2142"/>
<text x="554" y="2114" font-size="21">RARα-Tg</text>
<text x="554" y="2150" font-size="21">RARα-Tg + RA</text>
<rect x="544" y="2190" width="151" height="73" class="lb"/>
<line x1="555" y1="2208" x2="580" y2="2208" class="ln"/><use href="#cf" x="567" y="2208"/>
<line x1="555" y1="2243" x2="580" y2="2243" class="dl"/><use href="#co" x="567" y="2243"/>
<text x="595" y="2216" font-size="22">WT</text>
<text x="595" y="2251" font-size="22">WT + RA</text>
<rect x="502.5" y="2272" width="170" height="73" class="lb"/>
<line x1="512" y1="2290" x2="537" y2="2290" class="ln"/><use href="#sf" x="525" y="2290"/>
<line x1="512" y1="2327" x2="537" y2="2327" class="dl"/><use href="#so" x="525" y="2327"/>
<text x="550" y="2297" font-size="20">ΔRara<tspan dy="-9" font-size="15" font-style="italic">LCK</tspan></text>
<text x="550" y="2334" font-size="20">ΔRara<tspan dy="-9" font-size="15" font-style="italic">LCK +</tspan><tspan dy="9"> RA</tspan></text>
<path class="ga" d="M505 2123L476.9 2141.9M544 2218H510M502 2303L471.2 2287.9"/>
<polygon fill="#999" points="462,2152 471.9,2134.4 481.9,2149.4"/>
<polygon fill="#999" points="492,2218 510,2209 510,2227"/>
<polygon fill="#999" points="455,2280 475.2,2279.8 467.2,2296"/>

<!-- ================= PANEL F ================= -->
<text x="761" y="1563" font-size="40" class="b">f</text>
<text x="959" y="1565" font-size="28" class="b">24h-Activated CD4<tspan dy="-10" font-size="17">+</tspan></text>
<rect x="1288" y="1540" width="39" height="20" class="g"/>
<rect x="1288" y="1578" width="39" height="19" class="w"/>
<rect x="1288" y="1615" width="39" height="19" class="k"/>
<g font-size="28">
<text x="1343" y="1560">WT</text>
<text x="1343" y="1596">ΔRara<tspan dy="-11" font-size="19" font-style="italic">LCK</tspan></text>
<text x="1343" y="1632">RARα-Tg</text>
</g>
<text transform="translate(779,1820) rotate(-90)" text-anchor="middle" font-size="29">Maximal respiration</text>
<g font-size="28" text-anchor="end">
<text x="846" y="1703">600</text><text x="846" y="1786">400</text><text x="846" y="1869">200</text><text x="846" y="1952">0</text>
</g>
<rect x="878" y="1846.5" width="25.5" height="95.5" class="g"/>
<rect x="911" y="1872.3" width="25" height="69.7" class="g"/>
<rect x="957" y="1903.8" width="25.5" height="38.2" class="w"/>
<rect x="990" y="1899.7" width="25" height="42.3" class="w"/>
<rect x="1037" y="1758.2" width="26" height="183.8" class="k"/>
<rect x="1070" y="1818.3" width="25.5" height="123.7" class="k"/>
<path class="eb" d="M890.75 1846.5V1830M885.75 1830h10M923.5 1872.3V1856.9M918.5 1856.9h10M969.75 1903.8V1890.1M964.75 1890.1h10M1002.5 1899.7V1882.7M997.5 1882.7h10M1050 1758.2V1720M1045 1720h10M1082.75 1818.3V1782.2M1077.75 1782.2h10"/>
<path class="ax" d="M863 1693V1942M855 1693h8M855 1776h8M855 1859h8M851.5 1942H1111M890.75 1942v11M923.5 1942v11M969.75 1942v11M1002.5 1942v11M1050 1942v11M1082.75 1942v11"/>
<path class="sg" d="M894 1693H1052M894 1706H977M1047.5 1707H1085"/>
<g font-size="34" text-anchor="middle"><text x="963" y="1696">*</text><text x="1068" y="1716">*</text></g>
<text transform="translate(1165,1810) rotate(-90)" text-anchor="middle" font-size="29">Spare capacity</text>
<g font-size="28" text-anchor="end">
<text x="1224" y="1709">400</text><text x="1224" y="1771">300</text><text x="1224" y="1832.7">200</text><text x="1224" y="1894">100</text><text x="1224" y="1956">0</text>
</g>
<rect x="1263" y="1867.1" width="25" height="78.9" class="g"/>
<rect x="1295" y="1890.5" width="25" height="55.5" class="g"/>
<rect x="1342" y="1926.3" width="25" height="19.7" class="w"/>
<rect x="1375" y="1922.6" width="26" height="23.4" class="w"/>
<rect x="1422" y="1773.3" width="27" height="172.7" class="k"/>
<rect x="1455" y="1856.6" width="26" height="89.4" class="k"/>
<path class="eb" d="M1275.5 1867.1V1852.3M1270.5 1852.3h10M1307.5 1890.5V1873.2M1302.5 1873.2h10M1354.5 1926.3V1918.2M1349.5 1918.2h10M1388 1922.6V1909M1383 1909h10M1435.5 1773.3V1737.6M1430.5 1737.6h10M1468 1856.6V1833.1M1463 1833.1h10"/>
<path class="ax" d="M1237 1699.3V1946M1229 1699.3h8M1229 1761h8M1229 1822.7h8M1229 1884.3h8M1233 1946H1496M1275.5 1946v11M1307.5 1946v11M1354.5 1946v11M1388 1946v11M1435.5 1946v11M1468 1946v11"/>
<path class="sg" d="M1277 1699H1436M1277 1713H1360M1430.6 1715H1468.5"/>
<g font-size="34" text-anchor="middle"><text x="1350" y="1702">*</text><text x="1451" y="1722">*</text></g>
<g font-size="27" text-anchor="middle">
<text x="836" y="1975">RA</text>
<text x="890.75" y="1975">–</text><text x="923.5" y="1975">+</text><text x="969.75" y="1975">–</text><text x="1002.5" y="1975">+</text><text x="1050" y="1975">–</text><text x="1082.75" y="1975">+</text>
<text x="1220" y="1980">RA</text>
<text x="1275.5" y="1980">–</text><text x="1307.5" y="1980">+</text><text x="1354.5" y="1980">–</text><text x="1388" y="1980">+</text><text x="1435.5" y="1980">–</text><text x="1468" y="1980">+</text>
</g>
<text transform="translate(783,2193) rotate(-90)" text-anchor="middle" font-size="29">Basal ECAR (mpH/min)</text>
<g font-size="28" text-anchor="end">
<text x="849" y="2081">100</text><text x="849" y="2130">80</text><text x="849" y="2180">60</text><text x="849" y="2229">40</text><text x="849" y="2278">20</text><text x="849" y="2327">0</text>
</g>
<rect x="881" y="2181.9" width="24" height="135.1" class="g"/>
<rect x="913.6" y="2204" width="25.4" height="113" class="g"/>
<rect x="960.5" y="2233.5" width="24.5" height="83.5" class="w"/>
<rect x="993" y="2222.4" width="25" height="94.6" class="w"/>
<rect x="1039.6" y="2116.8" width="25.4" height="200.2" class="k"/>
<rect x="1073" y="2188" width="25" height="129" class="k"/>
<path class="eb" d="M893 2181.9V2179.4M888 2179.4h10M926.3 2204V2201.5M921.3 2201.5h10M972.75 2233.5V2231M967.75 2231h10M1005.5 2222.4V2221.2M1000.5 2221.2h10M1052.3 2116.8V2114.3M1047.3 2114.3h10M1085.5 2188V2184.3M1080.5 2184.3h10"/>
<path class="ax" d="M865.6 2071V2317M857 2071.3h8.6M857 2120.4h8.6M857 2169.6h8.6M857 2218.7h8.6M857 2267.9h8.6M855 2317H1114M893 2317v11M926.3 2317v11M972.75 2317v11M1005.5 2317v11M1052.3 2317v11M1085.5 2317v11"/>
<path class="sg" d="M891 2075H1049M891 2088H973M891 2102H928M1043.6 2089H1080M967 2183H1006"/>
<g font-size="34" text-anchor="middle"><text x="960.5" y="2079">*</text><text x="1065" y="2097">*</text></g>
<text x="989.5" y="2177" font-size="24" text-anchor="middle">NS</text>
<text transform="translate(1165,2197) rotate(-90)" text-anchor="middle" font-size="29">Basal OCR (pmol/min)</text>
<g font-size="28" text-anchor="end">
<text x="1232" y="2082">250</text><text x="1232" y="2131.7">200</text><text x="1232" y="2181">150</text><text x="1232" y="2230.3">100</text><text x="1232" y="2279.7">50</text><text x="1232" y="2329">0</text>
</g>
<rect x="1261" y="2218.4" width="25.5" height="100.6" class="g"/>
<rect x="1294" y="2238.1" width="25" height="80.9" class="g"/>
<rect x="1340" y="2259.8" width="25.6" height="59.2" class="w"/>
<rect x="1373" y="2253.9" width="25" height="65.1" class="w"/>
<rect x="1419" y="2161.1" width="27" height="157.9" class="k"/>
<rect x="1453" y="2214.4" width="25.6" height="104.6" class="k"/>
<path class="eb" d="M1273.75 2218.4V2189.7M1268.75 2189.7h10M1306.5 2238.1V2214.4M1301.5 2214.4h10M1352.8 2259.8V2236.1M1347.8 2236.1h10M1385.5 2253.9V2228.2M1380.5 2228.2h10M1432.5 2161.1V2123.6M1427.5 2123.6h10M1465.8 2214.4V2179.9M1460.8 2179.9h10"/>
<path class="ax" d="M1247 2072V2319M1239 2072.3h8M1239 2121.7h8M1239 2171h8M1239 2220.3h8M1239 2269.7h8M1237 2319H1496M1273.75 2319v11M1306.5 2319v11M1352.8 2319v11M1385.5 2319v11M1432.5 2319v11M1465.8 2319v11"/>
<path class="sg" d="M1278 2087H1441M1278 2099H1364M1433 2103H1470"/>
<g font-size="34" text-anchor="middle"><text x="1351.5" y="2089">*</text><text x="1453" y="2111">*</text></g>
<g font-size="27" text-anchor="middle">
<text x="838" y="2357">RA</text>
<text x="893" y="2357">–</text><text x="926.3" y="2357">+</text><text x="972.75" y="2357">–</text><text x="1005.5" y="2357">+</text><text x="1052.3" y="2357">–</text><text x="1085.5" y="2357">+</text>
<text x="1225" y="2357">RA</text>
<text x="1273.75" y="2357">–</text><text x="1306.5" y="2357">+</text><text x="1352.8" y="2357">–</text><text x="1385.5" y="2357">+</text><text x="1432.5" y="2357">–</text><text x="1465.8" y="2357">+</text>
</g>
</svg>
</body></html>
